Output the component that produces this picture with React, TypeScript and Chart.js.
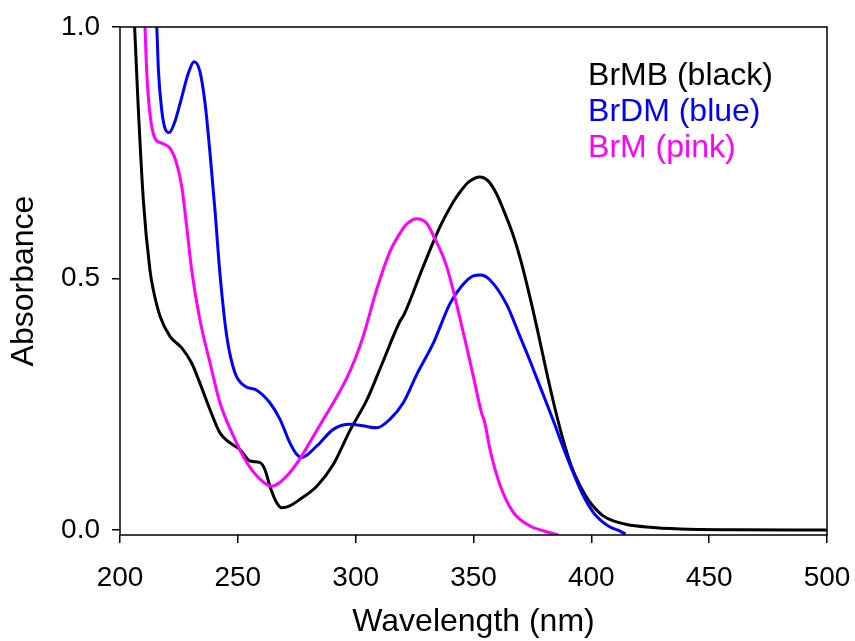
import React, { useEffect, useRef } from "react";
import { Chart, registerables } from "chart.js";

Chart.register(...registerables);

// ---- Data ----
const brmbWavelength = [
  204.5, 206.2, 207.6, 209.9, 212.7, 214.1, 217.0, 221.2, 226.2, 230.4, 233.9, 238.2,
  242.4, 246.7, 250.9, 255.2, 259.4, 261.5, 263.6, 266.5, 268.6, 272.0, 276.4, 283.5,
  290.5, 297.6, 304.7, 311.0, 318.8, 320.5, 328.7, 335.8, 341.4, 344.3, 348.0, 352.7,
  356.0, 359.8, 363.0, 366.9, 370.0, 374.0, 377.5, 381.0, 384.5, 388.1, 391.5, 395.2,
  399.0, 402.2, 405.0, 409.3, 415.0, 423.4, 437.6, 460.0, 500.0,
];
const brmbAbsorbance = [
  1.2, 1.0, 0.854, 0.656, 0.517, 0.478, 0.425, 0.385, 0.362, 0.332, 0.292, 0.239,
  0.193, 0.173, 0.16, 0.137, 0.134, 0.12, 0.087, 0.054, 0.044, 0.048, 0.061, 0.087,
  0.13, 0.198, 0.258, 0.328, 0.415, 0.428, 0.524, 0.603, 0.652, 0.672, 0.692, 0.702,
  0.695, 0.668, 0.633, 0.585, 0.537, 0.462, 0.39, 0.314, 0.243, 0.178, 0.127, 0.088,
  0.058, 0.04, 0.028, 0.018, 0.011, 0.006, 0.002, 0.0005, 0.0,
];

const brdmWavelength = [
  214.8, 215.6, 216.3, 217.7, 219.0, 220.9, 223.0, 225.5, 229.0, 231.4, 233.9, 236.1,
  238.2, 240.3, 242.4, 245.3, 248.8, 253.0, 258.0, 263.6, 267.9, 272.1, 275.0, 277.0,
  283.5, 290.5, 297.6, 303.0, 308.9, 314.5, 320.2, 326.0, 333.0, 340.0, 345.0, 349.9,
  353.0, 357.0, 364.1, 369.0, 374.0, 378.5, 383.8, 388.0, 392.3, 396.6, 400.8, 404.0,
  407.9, 411.0, 414.5,
];
const brdmAbsorbance = [
  1.05, 1.0, 0.914, 0.835, 0.8, 0.79, 0.808, 0.848, 0.908, 0.931, 0.912, 0.848,
  0.749, 0.636, 0.51, 0.385, 0.312, 0.286, 0.278, 0.253, 0.22, 0.173, 0.15, 0.144,
  0.167, 0.2, 0.21, 0.207, 0.203, 0.22, 0.253, 0.31, 0.372, 0.45, 0.485, 0.505,
  0.507, 0.497, 0.448, 0.393, 0.336, 0.282, 0.218, 0.165, 0.114, 0.068, 0.035, 0.019,
  0.006, 0.0, -0.008,
];

const brmWavelength = [
  210.0, 210.6, 211.3, 212.7, 214.8, 217.7, 221.2, 224.0, 226.2, 228.3, 230.4, 233.9,
  238.2, 242.4, 248.1, 253.8, 259.4, 264.3, 270.7, 276.4, 281.0, 286.3, 291.0, 296.2,
  300.0, 303.2, 308.9, 314.5, 318.8, 321.6, 325.9, 330.1, 333.0, 338.6, 345.7, 349.9,
  353.4, 354.8, 357.0, 361.2, 366.9, 374.0, 380.0, 386.0,
];
const brmAbsorbance = [
  1.05, 1.0, 0.914, 0.828, 0.779, 0.769, 0.759, 0.729, 0.683, 0.603, 0.517, 0.418,
  0.332, 0.253, 0.187, 0.134, 0.101, 0.087, 0.107, 0.142, 0.178, 0.22, 0.257, 0.302,
  0.343, 0.385, 0.478, 0.553, 0.59, 0.608, 0.619, 0.61, 0.585, 0.524, 0.392, 0.306,
  0.233, 0.213, 0.16, 0.09, 0.035, 0.008, -0.002, -0.01,
];

const seriesLabels = ["BrMB (black)", "BrDM (blue)", "BrM (pink)"];
const seriesColors = ["#000000", "#0000FF", "#FF00FF"];

const xTickValues = [200, 250, 300, 350, 400, 450, 500];
const yTickValues = [0.0, 0.5, 1.0];

const xTitle = "Wavelength (nm)";
const yTitle = "Absorbance";

const FONT = "'Liberation Sans', Arial, Helvetica, sans-serif";

export default function App() {
  const canvasRef = useRef<HTMLCanvasElement | null>(null);

  useEffect(() => {
    const canvas = canvasRef.current;
    if (!canvas) return;

    const toPoints = (xs: number[], ys: number[]) => xs.map((x, i) => ({ x, y: ys[i] }));

    const frame = {
      id: "frame",
      afterDraw(chart: any) {
        const { ctx, chartArea: a } = chart;
        ctx.save();
        ctx.strokeStyle = "#000";
        ctx.lineWidth = 1.5;
        ctx.strokeRect(a.left, a.top, a.right - a.left, a.bottom - a.top);
        ctx.restore();
      },
    };

    const legendText = {
      id: "legendText",
      afterDraw(chart: any) {
        const { ctx } = chart;
        const xs = chart.scales.x;
        const ys = chart.scales.y;
        const left = xs.getPixelForValue(398.6);
        const rows = [0.902, 0.83, 0.759];
        ctx.save();
        ctx.font = `32px ${FONT}`;
        ctx.textAlign = "left";
        ctx.textBaseline = "middle";
        seriesLabels.forEach((label, i) => {
          ctx.fillStyle = seriesColors[i];
          ctx.fillText(label, left, ys.getPixelForValue(rows[i]));
        });
        ctx.restore();
      },
    };

    const makeSet = (label: string, xs: number[], ys: number[], color: string) => ({
      label,
      data: toPoints(xs, ys),
      borderColor: color,
      backgroundColor: color,
      borderWidth: 3,
      pointRadius: 0,
      fill: false,
      cubicInterpolationMode: "monotone" as const,
    });

    const chart = new Chart(canvas, {
      type: "line",
      data: {
        datasets: [
          makeSet(seriesLabels[2], brmWavelength, brmAbsorbance, seriesColors[2]),
          makeSet(seriesLabels[1], brdmWavelength, brdmAbsorbance, seriesColors[1]),
          makeSet(seriesLabels[0], brmbWavelength, brmbAbsorbance, seriesColors[0]),
        ],
      },
      options: {
        responsive: false,
        animation: false,
        layout: { padding: { top: 27, right: 28, left: 0, bottom: 0 } },
        plugins: {
          legend: { display: false },
          tooltip: { enabled: false },
        },
        scales: {
          x: {
            type: "linear",
            min: 200,
            max: 500,
            afterFit: (s: any) => {
              s.height = 106;
              s.paddingLeft = 0;
              s.paddingRight = 0;
            },
            afterBuildTicks: (s: any) => {
              s.ticks = xTickValues.map((v) => ({ value: v }));
            },
            grid: {
              drawOnChartArea: false,
              drawTicks: true,
              tickLength: 8,
              color: "#000",
              lineWidth: 1.5,
            },
            border: { display: false },
            ticks: {
              font: { family: FONT, size: 28 },
              color: "#000",
              padding: 18,
              maxRotation: 0,
              autoSkip: false,
              callback: (v: any) => String(v),
            },
            title: {
              display: true,
              text: xTitle,
              font: { family: FONT, size: 32 },
              color: "#000",
              padding: { top: 1, bottom: 0 },
            },
          },
          y: {
            type: "linear",
            min: -0.01,
            max: 1.0,
            afterFit: (s: any) => {
              s.width = 120;
              s.paddingTop = 0;
              s.paddingBottom = 0;
            },
            afterBuildTicks: (s: any) => {
              s.ticks = yTickValues.map((v) => ({ value: v }));
            },
            grid: {
              drawOnChartArea: false,
              drawTicks: true,
              tickLength: 8,
              color: "#000",
              lineWidth: 1.5,
            },
            border: { display: false },
            ticks: {
              font: { family: FONT, size: 28 },
              color: "#000",
              padding: 12,
              autoSkip: false,
              callback: (v: any) => Number(v).toFixed(1),
            },
            title: {
              display: true,
              text: yTitle,
              font: { family: FONT, size: 32 },
              color: "#000",
              padding: { top: 5, bottom: 0 },
            },
          },
        },
      },
      plugins: [frame, legendText],
    });

    return () => chart.destroy();
  }, []);

  return (
    <div style={{ position: "fixed", left: 0, top: 0, width: 855, height: 641, background: "#fff" }}>
      <canvas ref={canvasRef} width={855} height={641} style={{ display: "block" }} />
    </div>
  );
}
